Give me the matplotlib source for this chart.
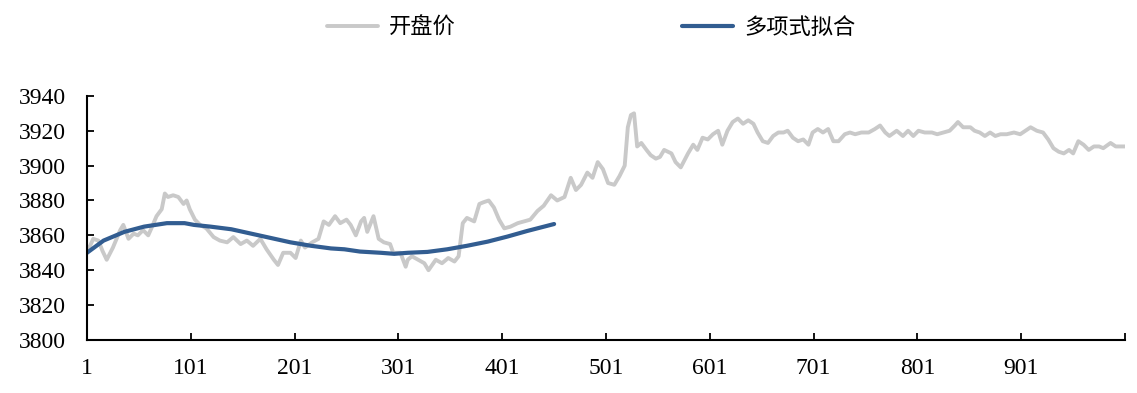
import numpy as np
import matplotlib
matplotlib.use("Agg")
import matplotlib.pyplot as plt

# 开盘价 readings (index, value)
open_idx = [1, 4, 7, 12, 16, 20, 26, 33, 36, 41, 46, 50, 55, 60, 63, 68, 73, 76, 79, 84,
            89, 94, 97, 100, 105, 110, 116, 123, 129, 136, 142, 149, 155, 161, 168, 174, 181, 185, 190, 197,
            202, 207, 211, 218, 224, 229, 234, 240, 245, 251, 255, 260, 265, 268, 271, 277, 282, 287, 293, 296,
            303, 308, 310, 314, 320, 326, 330, 337, 343, 349, 355, 359, 363, 367, 374, 379, 383, 388, 393, 398,
            403, 409, 416, 422, 428, 435, 441, 448, 454, 461, 467, 472, 477, 483, 488, 493, 498, 503, 509, 514,
            519, 522, 525, 528, 531, 535, 540, 544, 549, 553, 557, 564, 568, 573, 580, 585, 589, 594, 599, 604,
            609, 613, 618, 623, 628, 633, 638, 643, 647, 652, 657, 662, 667, 672, 676, 681, 686, 691, 696, 700,
            705, 710, 715, 720, 725, 731, 736, 741, 747, 754, 760, 765, 770, 774, 781, 787, 792, 797, 802, 808,
            815, 820, 826, 832, 837, 840, 845, 852, 856, 861, 866, 871, 876, 881, 887, 894, 900, 905, 910, 916,
            922, 927, 932, 937, 942, 947, 951, 956, 961, 966, 971, 976, 980, 987, 992, 996, 1001]
open_val = [3852, 3854, 3858, 3857, 3851, 3846, 3853, 3863, 3866, 3858, 3861, 3860, 3863, 3860, 3864, 3871, 3875, 3884, 3882, 3883,
            3882, 3878, 3880, 3875, 3869, 3866, 3864, 3859, 3857, 3856, 3859, 3855, 3857, 3854, 3858, 3852, 3846, 3843, 3850, 3850,
            3847, 3857, 3853, 3856, 3858, 3868, 3866, 3871, 3867, 3869, 3866, 3860, 3868, 3870, 3862, 3871, 3858, 3856, 3855, 3850,
            3850, 3842, 3846, 3848, 3846, 3844, 3840, 3846, 3844, 3847, 3845, 3848, 3867, 3870, 3868, 3878, 3879, 3880, 3876, 3869,
            3864, 3865, 3867, 3868, 3869, 3874, 3877, 3883, 3880, 3882, 3893, 3886, 3889, 3896, 3893, 3902, 3898, 3890, 3889, 3894,
            3900, 3922, 3929, 3930, 3911, 3913, 3909, 3906, 3904, 3905, 3909, 3907, 3902, 3899, 3907, 3912, 3909, 3916, 3915, 3918,
            3920, 3912, 3920, 3925, 3927, 3924, 3926, 3924, 3919, 3914, 3913, 3917, 3919, 3919, 3920, 3916, 3914, 3915, 3912, 3919,
            3921, 3919, 3921, 3914, 3914, 3918, 3919, 3918, 3919, 3919, 3921, 3923, 3919, 3917, 3920, 3917, 3920, 3917, 3920, 3919,
            3919, 3918, 3919, 3920, 3923, 3925, 3922, 3922, 3920, 3919, 3917, 3919, 3917, 3918, 3918, 3919, 3918, 3920, 3922, 3920,
            3919, 3915, 3910, 3908, 3907, 3909, 3907, 3914, 3912, 3909, 3911, 3911, 3910, 3913, 3911, 3911, 3911]

# 多项式拟合 readings
fit_idx = [1, 17, 37, 56, 78, 95, 104, 120, 140, 159, 178, 197, 217, 236, 249, 264, 284, 297, 310, 329,
           348, 367, 387, 406, 425, 451]
fit_val = [3850, 3857, 3862, 3865, 3867, 3867, 3866, 3865, 3863.5, 3861, 3858.5, 3856, 3854, 3852.5, 3852, 3850.7,
           3850, 3849.4, 3850, 3850.5, 3852, 3854, 3856.4, 3859.3, 3862.5, 3866.5]

x_ticks = list(range(1, 1002, 100))
x_labels = [str(t) for t in x_ticks[:-1]] + [""]
y_ticks = list(range(3800, 3941, 20))

plt.rcParams['font.family'] = ['Liberation Serif', 'Noto Sans CJK SC']

fig = plt.figure(figsize=(11.37, 3.93), dpi=100)
ax = fig.add_axes([0.0765, 0.135, 0.913, 0.621])

ax.plot(open_idx, open_val, color='#C9C9C9', lw=2.8, label='开盘价', solid_capstyle='round')
ax.plot(fit_idx, fit_val, color='#325D91', lw=3.0, label='多项式拟合', solid_capstyle='round')

ax.set_xlim(1, 1001)
ax.set_ylim(3800, 3940)
ax.set_xticks(x_ticks)
ax.set_xticklabels(x_labels)
ax.set_yticks(y_ticks)
ax.tick_params(direction='in', length=5, width=1.3, labelsize=17)
ax.tick_params(axis='y', pad=15)
ax.tick_params(axis='x', pad=13)
for s in ['top', 'right']:
    ax.spines[s].set_visible(False)
for s in ['left', 'bottom']:
    ax.spines[s].set_linewidth(1.5)

leg = fig.legend(loc='center', bbox_to_anchor=(0.52, 0.93), ncol=2, frameon=False,
                 columnspacing=10.2, handlelength=2.3, handletextpad=0.5,
                 prop={'family': 'Noto Sans CJK SC', 'size': 16})

fig.savefig('out.png', dpi=100)
